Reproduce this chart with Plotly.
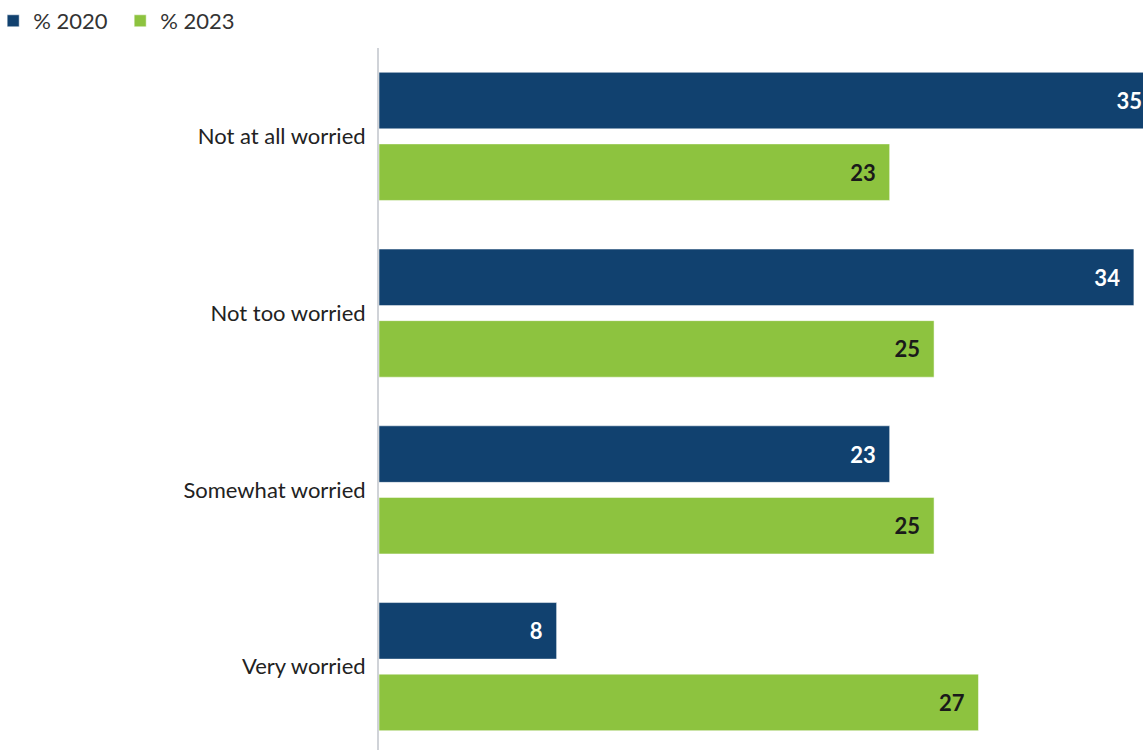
import plotly.graph_objects as go

categories = ["Not at all worried", "Not too worried", "Somewhat worried", "Very worried"]
values_2020 = [35, 34, 23, 8]
values_2023 = [23, 25, 25, 27]
series_names = ["% 2020", "% 2023"]

NAVY = "#11416f"
GREEN = "#8dc33f"
FONT = "Lato"
PAD = "\u2002"

fig = go.Figure()
fig.add_trace(go.Bar(
    y=categories, x=values_2020, name=series_names[0], orientation="h",
    marker=dict(color=NAVY, line=dict(color="white", width=0.5)),
    text=[f"{v}{PAD}" for v in values_2020], textposition="inside", insidetextanchor="end",
    textfont=dict(family=FONT, size=22, color="white", weight="bold"),
    cliponaxis=True,
))
fig.add_trace(go.Bar(
    y=categories, x=values_2023, name=series_names[1], orientation="h",
    marker=dict(color=GREEN, line=dict(color="white", width=0.5)),
    text=[f"{v}{PAD}" for v in values_2023], textposition="inside", insidetextanchor="end",
    textfont=dict(family=FONT, size=22, color="#1a1a1a", weight="bold"),
    cliponaxis=True,
))

fig.update_layout(
    width=1143, height=755,
    margin=dict(l=379, r=0, t=48, b=0, autoexpand=False),
    paper_bgcolor="white", plot_bgcolor="white",
    barmode="group", bargap=0.19, bargroupgap=0.21,
    font=dict(family=FONT, size=22, color="#222222"),
    showlegend=True,
    legend=dict(orientation="h", x=-0.505, y=1.0679, xref="paper", yref="paper",
                xanchor="left", yanchor="top", traceorder="normal",
                font=dict(family=FONT, size=22, color="#333333"),
                itemwidth=30, entrywidth=82),
    uniformtext=dict(mode=False),
)
fig.update_xaxes(range=[0, 34.41], visible=False, showgrid=False, zeroline=False)
fig.update_yaxes(autorange="reversed", showgrid=False, zeroline=False,
                 showline=True, linecolor="#d0d3d8", linewidth=2,
                 ticks="", ticklabelstandoff=7, tickfont=dict(family=FONT, size=22, color="#222222"))

fig.write_html("out.html", config={"displayModeBar": False},
               post_script="document.body.style.margin='0';document.body.style.overflow='hidden';")
